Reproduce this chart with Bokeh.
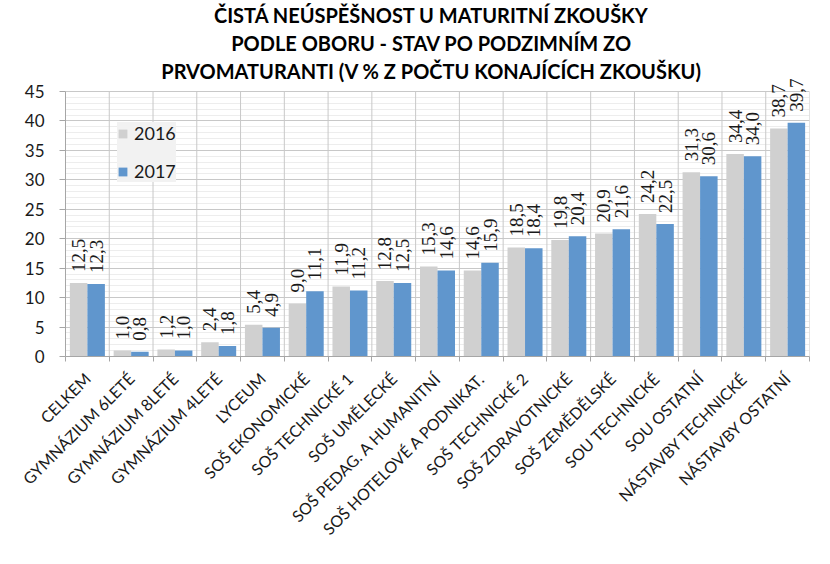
import math
from bokeh.plotting import figure
from bokeh.models import (ColumnDataSource, FixedTicker, SingleIntervalTicker, Range1d,
                          LabelSet, Label, Legend, LegendItem)
from bokeh.embed import file_html
from bokeh.resources import INLINE

categories = ["CELKEM", "GYMNÁZIUM 6LETÉ", "GYMNÁZIUM 8LETÉ", "GYMNÁZIUM 4LETÉ", "LYCEUM",
              "SOŠ EKONOMICKÉ", "SOŠ TECHNICKÉ 1", "SOŠ UMĚLECKÉ", "SOŠ PEDAG. A HUMANITNÍ",
              "SOŠ HOTELOVÉ A PODNIKAT.", "SOŠ TECHNICKÉ 2", "SOŠ ZDRAVOTNICKÉ", "SOŠ ZEMĚDĚLSKÉ",
              "SOU TECHNICKÉ", "SOU OSTATNÍ", "NÁSTAVBY TECHNICKÉ", "NÁSTAVBY OSTATNÍ"]
values_2016 = [12.5, 1.0, 1.2, 2.4, 5.4, 9.0, 11.9, 12.8, 15.3, 14.6, 18.5, 19.8, 20.9, 24.2, 31.3, 34.4, 38.7]
values_2017 = [12.3, 0.8, 1.0, 1.8, 4.9, 11.1, 11.2, 12.5, 14.6, 15.9, 18.4, 20.4, 21.6, 22.5, 30.6, 34.0, 39.7]
series_names = ["2016", "2017"]
y_axis_max = 45
title_lines = ["ČISTÁ NEÚSPĚŠNOST U MATURITNÍ ZKOUŠKY",
               "PODLE OBORU - STAV PO PODZIMNÍM ZO",
               "PRVOMATURANTI (V % Z POČTU KONAJÍCÍCH ZKOUŠKU)"]

GRAY = "#d0d0d0"
BLUE = "#6096cd"
GRID = "#c8c8c8"
AXIS = "#a6a6a6"
FONT = "Lato"
TXT = "#1a1a1a"

n = len(categories)
idx = list(range(n))
bounds = [i - 0.5 for i in range(n + 1)]
fmt = lambda v: f"{v:.1f}".replace(".", ",")

src16 = ColumnDataSource(dict(x=[i - 0.2 for i in idx], top=values_2016,
                              lbl=[fmt(v) for v in values_2016]))
src17 = ColumnDataSource(dict(x=[i + 0.2 for i in idx], top=values_2017,
                              lbl=[fmt(v) for v in values_2017]))

W, H = 814, 548
FL, FR, FB = 65, 809, 356
PLOT_H = 265                      # pixel height of the 0..45 area
px_per_unit = PLOT_H / y_axis_max
y_top = FB / px_per_unit          # frame extends to the top of the canvas

p = figure(width=W, height=H, output_backend="svg", toolbar_location=None,
           x_range=Range1d(-0.5, n - 0.5), y_range=Range1d(0, y_top),
           min_border_left=FL, min_border_right=W - FR,
           min_border_top=0, min_border_bottom=H - FB)
p.outline_line_color = None
p.background_fill_color = "white"

# vertical grid lines at category boundaries, only over the 0..45 area
p.segment(x0=bounds, y0=[0] * len(bounds), x1=bounds, y1=[y_axis_max] * len(bounds),
          line_color=GRID, line_width=1)

r16 = p.vbar(x="x", top="top", width=0.4, source=src16, fill_color=GRAY, line_color=None)
r17 = p.vbar(x="x", top="top", width=0.4, source=src17, fill_color=BLUE, line_color=None)

for s in (src16, src17):
    p.add_layout(LabelSet(x="x", y="top", text="lbl", source=s, angle=math.pi / 2,
                          text_align="left", text_baseline="middle", y_offset=11,
                          text_font=FONT, text_font_size="19px", text_color=TXT))

# x axis
xt = FixedTicker(ticks=idx, minor_ticks=bounds)
p.xaxis.ticker = xt
p.xaxis.major_label_overrides = {i: c for i, c in enumerate(categories)}
p.xaxis.major_label_orientation = math.pi / 4
p.xaxis.major_tick_line_color = None
p.xaxis.major_tick_out = 5
p.xaxis.major_tick_in = 0
p.xaxis.minor_tick_out = 5
p.xaxis.minor_tick_in = 0
p.xaxis.minor_tick_line_color = AXIS
p.xaxis.axis_line_color = AXIS
p.xaxis.major_label_text_font = FONT
p.xaxis.major_label_text_font_size = "16px"
p.xaxis.major_label_text_color = TXT
p.xaxis.major_label_standoff = 14
p.xgrid.grid_line_color = None

# y axis
p.yaxis.ticker = SingleIntervalTicker(interval=5, num_minor_ticks=5)
p.yaxis.bounds = (0, y_axis_max)
p.yaxis.minor_tick_line_color = None
p.yaxis.major_tick_out = 6
p.yaxis.major_tick_in = 0
p.yaxis.major_tick_line_color = AXIS
p.yaxis.axis_line_color = AXIS
p.yaxis.major_label_text_font = FONT
p.yaxis.major_label_text_font_size = "17px"
p.yaxis.major_label_text_color = TXT
p.yaxis.major_label_standoff = 15
p.ygrid.bounds = (0, y_axis_max)
p.ygrid.grid_line_color = GRID
p.ygrid.minor_grid_line_color = "#ededed"

# title (three centred lines)
for k, t in enumerate(title_lines):
    p.add_layout(Label(x=366, y=PLOT_H + 77 - 28 * k, x_units="screen", y_units="screen",
                       text=t, text_align="center", text_baseline="middle",
                       text_font=FONT, text_font_style="bold", text_font_size="20px",
                       text_color="black"))

legend = Legend(items=[LegendItem(label=series_names[0], renderers=[r16]),
                       LegendItem(label=series_names[1], renderers=[r17])],
                location=(52, 174), orientation="vertical",
                background_fill_color="#f2f2f2", background_fill_alpha=1,
                border_line_color=None, label_text_font=FONT, label_text_font_size="18px",
                label_text_color=TXT, glyph_width=11, glyph_height=11,
                label_standoff=6, spacing=16, padding=11, margin=0, label_height=20)
p.add_layout(legend, "center")

open("out.html", "w").write(file_html(p, INLINE))
